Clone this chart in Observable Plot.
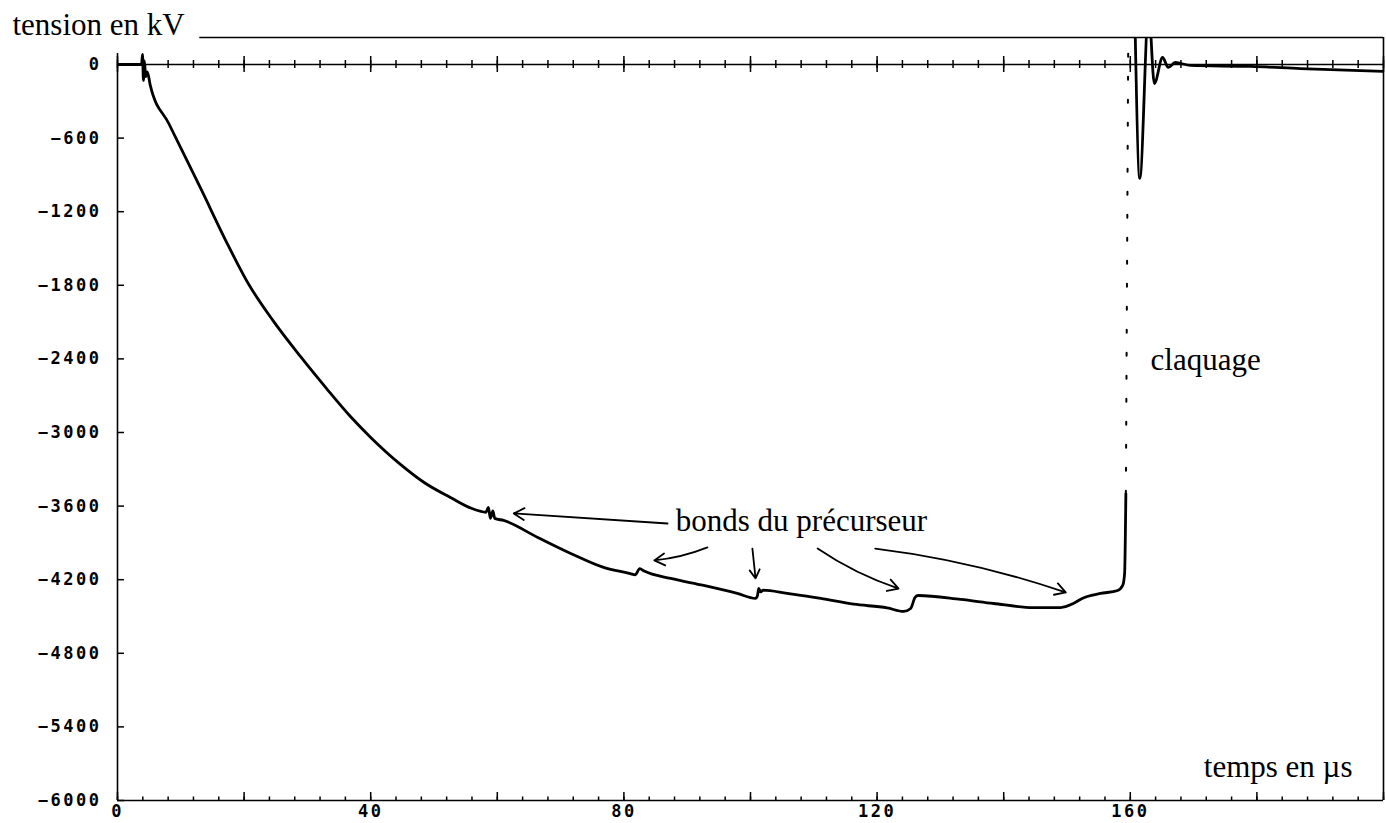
<!DOCTYPE html>
<html><head><meta charset="utf-8">
<script src="https://cdn.jsdelivr.net/npm/d3@7"></script>
<script src="https://cdn.jsdelivr.net/npm/@observablehq/plot@0.6"></script>
<style>
html,body{margin:0;padding:0;background:#fff;}
#chart svg{display:block;}
g[aria-label="y-axis tick label"] text, g[aria-label="x-axis tick label"] text{letter-spacing:2.5px;}
</style></head><body><div id="chart"></div>
<script>
// ---- data (time in µs, voltage in kV) ----
const chargeT  = [0,3.8,3.95,4.1,4.25,4.45,4.7,5.2,8.1,13.3,17.1,20.7,24.6,28.9,33,36.8,40,44.7,48.5,52.6,56,58.2,58.6,58.9,59.3,59.6,61,66.4,71.6,76.8,81,81.8,82.5,83.2,87.4,92.6,97.9,100.8,101.1,101.3,101.6,102,105.8,111.1,116.3,121.6,124.2,125.3,126,126.5,133.2,138.4,144.7,149,151,152.4,153.2,155.3,158,158.8,159.1,159.3];
const chargeKV = [0,0,82,-130,30,-100,-60,-175,-481,-1027,-1435,-1790,-2090,-2380,-2640,-2870,-3040,-3260,-3410,-3530,-3620,-3650,-3610,-3700,-3640,-3700,-3717,-3856,-3986,-4100,-4150,-4160,-4110,-4130,-4190,-4247,-4312,-4353,-4330,-4270,-4300,-4285,-4312,-4353,-4400,-4430,-4459,-4435,-4345,-4329,-4361,-4394,-4427,-4427,-4394,-4353,-4337,-4312,-4288,-4247,-4150,-3500];
const sparkT   = [159.3,159.7];
const sparkKV  = [-3500,450];
const afterT   = [160.7,161.5,162.9,163.8,165.1,166,167.1,169.5,179,186.9,200];
const afterKV  = [450,-929,450,-155,57,-24,16,-8,-16,-33,-57];

const xLabelTicks = [0,40,80,120,160];
const yLabelTicks = [0,-600,-1200,-1800,-2400,-3000,-3600,-4200,-4800,-5400,-6000];
const xMinorTicks = d3.range(0,201,4);
const xMajorTicks = d3.range(0,201,20);

// annotation arrows: tail (t1,v1) -> head (t2,v2)
const arrowT1 = [86.9,93.2,100.3,110.6,119.7];
const arrowV1 = [-3742,-3937,-3946,-3946,-3946];
const arrowT2 = [62.6,84.8,100.8,123.4,149.8];
const arrowV2 = [-3660,-4043,-4190,-4272,-4304];
const arrowBend = [0,8,0,-8,6];

const labels = [
  {text:"bonds du précurseur", t:88.2, v:-3799},
  {text:"claquage", t:163.2, v:-2494}
];

// ---- build tables ----
const trace = [
  ...chargeT.map((t,i)=>({t, v:chargeKV[i], seg:"a"})),
  ...afterT.map((t,i)=>({t, v:afterKV[i], seg:"c"}))
];
const spark = sparkT.map((t,i)=>({t, v:sparkKV[i]}));
const arrows = arrowT1.map((t,i)=>({t1:t, v1:arrowV1[i], t2:arrowT2[i], v2:arrowV2[i], bend:arrowBend[i]}));

const W = 1386, H = 823, mL = 117, mR = 3, mT = 37, mB = 23;
const yDom = [-6000, 220], xDom = [0, 200];
const kvPerPx = (yDom[1]-yDom[0])/(H-mT-mB);
const tPerPx = (xDom[1]-xDom[0])/(W-mL-mR);

const tickFont = "'DejaVu Sans Mono', monospace";
const serif = "'Liberation Serif', 'Times New Roman', serif";
const fmt = d => String(d).replace("-", "\u2212");

const chart = Plot.plot({
  width: W, height: H,
  marginLeft: mL, marginRight: mR, marginTop: mT, marginBottom: mB,
  x: {domain: xDom, axis: null},
  y: {domain: yDom, axis: null},
  style: {background: "#fff", color: "#000"},
  marks: [
    // frame lines
    Plot.ruleX([0], {y1: -6000, y2: 90, stroke: "#000", strokeWidth: 1.6}),
    Plot.ruleY([-6000], {x1: 0, x2: 200, stroke: "#000", strokeWidth: 1.6}),
    Plot.ruleX([200], {y1: -6000, y2: 220, stroke: "#000", strokeWidth: 1.6}),
    Plot.ruleY([220], {x1: 13, x2: 200, stroke: "#000", strokeWidth: 1.6}),
    Plot.ruleY([0], {x1: 0, x2: 200, stroke: "#000", strokeWidth: 1.6}),
    // ticks on zero line
    Plot.ruleX(xMinorTicks, {y1: -4*kvPerPx, y2: 4*kvPerPx, stroke: "#000", strokeWidth: 1.5}),
    Plot.ruleX(xMajorTicks, {y1: -8*kvPerPx, y2: 8*kvPerPx, stroke: "#000", strokeWidth: 1.5}),
    // ticks on bottom axis (pointing inward)
    Plot.ruleX(xMinorTicks, {y1: -6000, y2: -6000 + 3.5*kvPerPx, stroke: "#000", strokeWidth: 1.5}),
    Plot.ruleX(xMajorTicks, {y1: -6000, y2: -6000 + 8*kvPerPx, stroke: "#000", strokeWidth: 1.5}),
    // ticks on left axis
    Plot.ruleY(yLabelTicks, {x1: 0, x2: 7*tPerPx, stroke: "#000", strokeWidth: 1.5}),
    // tick labels
    Plot.axisY({ticks: yLabelTicks, tickSize: 0, tickPadding: 16, tickFormat: fmt, fontFamily: tickFont, fontWeight: "bold", fontSize: 17, label: null}),
    Plot.axisX({ticks: xLabelTicks, tickSize: 0, tickPadding: 4, tickFormat: fmt, fontFamily: tickFont, fontWeight: "bold", fontSize: 17, label: null}),
    // trace
    Plot.line(trace, {x: "t", y: "v", z: "seg", curve: "monotone-x", stroke: "#000", strokeWidth: 2.8, strokeLinejoin: "round", clip: true}),
    Plot.line(spark, {x: "t", y: "v", stroke: "#000", strokeWidth: 2, strokeDasharray: "3,20", clip: true}),
    // annotations (one arrow mark per arrow so that each keeps its own bend)
    ...arrows.map(a => Plot.arrow([a], {x1: "t1", y1: "v1", x2: "t2", y2: "v2", bend: a.bend, stroke: "#000", strokeWidth: 1.8, headLength: 10})),
    Plot.text(labels, {x: "t", y: "v", text: "text", textAnchor: "start", lineAnchor: "bottom", fontFamily: serif, fontSize: 31, fill: "#000"}),
    Plot.text(["tension en kV"], {frameAnchor: "top-left", dx: -105, dy: -3, textAnchor: "start", lineAnchor: "bottom", fontFamily: serif, fontSize: 31, fill: "#000"}),
    Plot.text(["temps en µs"], {frameAnchor: "bottom-right", dx: -31, dy: -24, textAnchor: "end", lineAnchor: "bottom", fontFamily: serif, fontSize: 31, fill: "#000"})
  ]
});
document.getElementById("chart").appendChild(chart);
</script>
</body></html>
